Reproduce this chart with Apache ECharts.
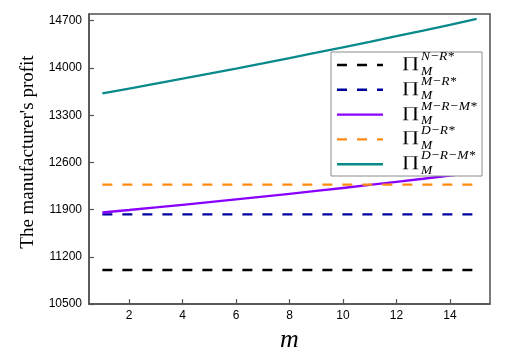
<!DOCTYPE html>
<html>
<head>
<meta charset="utf-8">
<script src="https://cdn.jsdelivr.net/npm/echarts@6/dist/echarts.min.js"></script>
<style>html,body{margin:0;padding:0;background:#fff;}#c{width:507px;height:358px;}</style>
</head>
<body>
<div id="c"></div>
<script>
// ---- data ----
var mValues = [1,2,3,4,5,6,7,8,9,10,11,12,13,14,15];
var xTickValues = [2,4,6,8,10,12,14];
var yTickMin = 10500, yTickMax = 14700, yTickStep = 700;
var seriesNames = ['N-R', 'M-R', 'M-R-M', 'D-R', 'D-R-M'];
var seriesSup = ['N\u2212R*', 'M\u2212R*', 'M\u2212R\u2212M*', 'D\u2212R*', 'D\u2212R\u2212M*'];
var profitNR  = [11005,11005,11005,11005,11005,11005,11005,11005,11005,11005,11005,11005,11005,11005,11005];
var profitMR  = [11830,11830,11830,11830,11830,11830,11830,11830,11830,11830,11830,11830,11830,11830,11830];
var profitMRM = [11858,11895,11933,11972,12011,12051,12092,12134,12177,12221,12266,12312,12358,12405,12453];
var profitDR  = [12271,12271,12271,12271,12271,12271,12271,12271,12271,12271,12271,12271,12271,12271,12271];
var profitDRM = [13622,13694,13767,13841,13916,13992,14069,14147,14226,14307,14388,14471,14555,14640,14728];

// ---- styles ----
var colors = ['#000000', '#0000a0', '#8a00ff', '#ff8a10', '#0a8a8a'];
var dashed = [true, true, false, true, false];
var allData = [profitNR, profitMR, profitMRM, profitDR, profitDRM];
var dashPattern = [10, 10];

function pairs(vals){ return mValues.map(function(m,i){ return [m, vals[i]]; }); }

var series = allData.map(function(d, i){
  return {
    name: seriesNames[i], type: 'line', data: pairs(d), symbol: 'none', smooth: false,
    lineStyle: { color: colors[i], width: dashed[i] ? 2.4 : 2.3, type: dashed[i] ? dashPattern : 'solid' },
    itemStyle: { color: colors[i] }, z: 3
  };
});

// legend drawn as graphics
var legX = 331, legY = 52, legW = 151, legH = 124;
var rowY0 = 65, rowGap = 24.8;
var graphics = [{
  type: 'rect', shape: { x: legX, y: legY, width: legW, height: legH },
  style: { fill: '#fff', stroke: '#8c8c8c', lineWidth: 1 }, z: 100
}];
seriesNames.forEach(function(n, i){
  var yc = rowY0 + rowGap * i;
  graphics.push({
    type: 'line', shape: { x1: 337, y1: yc, x2: 383, y2: yc },
    style: { stroke: colors[i], lineWidth: 2.4, lineDash: dashed[i] ? dashPattern : null }, z: 101
  });
  graphics.push({
    type: 'text', x: 401.5, y: yc - 2, scaleX: 1.45,
    style: { text: '\u220F', font: '15px "Liberation Serif", serif', fill: '#000', align: 'left', verticalAlign: 'middle' }, z: 101
  });
  graphics.push({
    type: 'text', x: 421, y: yc - 8.5,
    style: { text: seriesSup[i], font: 'italic 13.5px "Liberation Serif", serif', fill: '#000', align: 'left', verticalAlign: 'middle' }, z: 101
  });
  graphics.push({
    type: 'text', x: 421, y: yc + 6,
    style: { text: 'M', font: 'italic 13.5px "Liberation Serif", serif', fill: '#000', align: 'left', verticalAlign: 'middle' }, z: 101
  });
});

var chart = echarts.init(document.getElementById('c'), null, { renderer: 'canvas' });
chart.setOption({
  animation: false,
  backgroundColor: '#ffffff',
  grid: { left: 89, top: 14, right: 17, bottom: 46, show: true, borderColor: '#505050', borderWidth: 1.5, backgroundColor: 'transparent' },
  xAxis: {
    type: 'value', min: 0.5, max: 15.5,
    name: 'm', nameLocation: 'middle', nameGap: 10,
    nameTextStyle: { fontFamily: '"Liberation Serif", serif', fontStyle: 'italic', fontSize: 26, color: '#000' },
    axisLine: { show: true, onZero: false, lineStyle: { color: '#505050', width: 1.5 } },
    axisTick: { show: true, inside: true, length: 5, customValues: xTickValues, lineStyle: { color: '#505050', width: 1.2 } },
    axisLabel: { customValues: xTickValues, margin: 6, fontFamily: '"Liberation Sans", Arial, sans-serif', fontSize: 12, color: '#000' },
    splitLine: { show: false }
  },
  yAxis: {
    type: 'value', min: yTickMin, max: 14800, interval: yTickStep,
    name: "The manufacturer's profit", nameLocation: 'middle', nameGap: 48, nameRotate: 90,
    nameTextStyle: { fontFamily: '"Liberation Serif", serif', fontSize: 19, color: '#000', padding: [0,0,0,14] },
    axisLine: { show: true, lineStyle: { color: '#505050', width: 1.5 } },
    axisTick: { show: true, inside: true, length: 5, lineStyle: { color: '#505050', width: 1.2 } },
    axisLabel: { margin: 7, showMaxLabel: false, fontFamily: '"Liberation Sans", Arial, sans-serif', fontSize: 12, color: '#000',
      formatter: function(v){ return v > yTickMax ? '' : String(v); } },
    splitLine: { show: false }
  },
  series: series,
  graphic: graphics
});
</script>
</body>
</html>
